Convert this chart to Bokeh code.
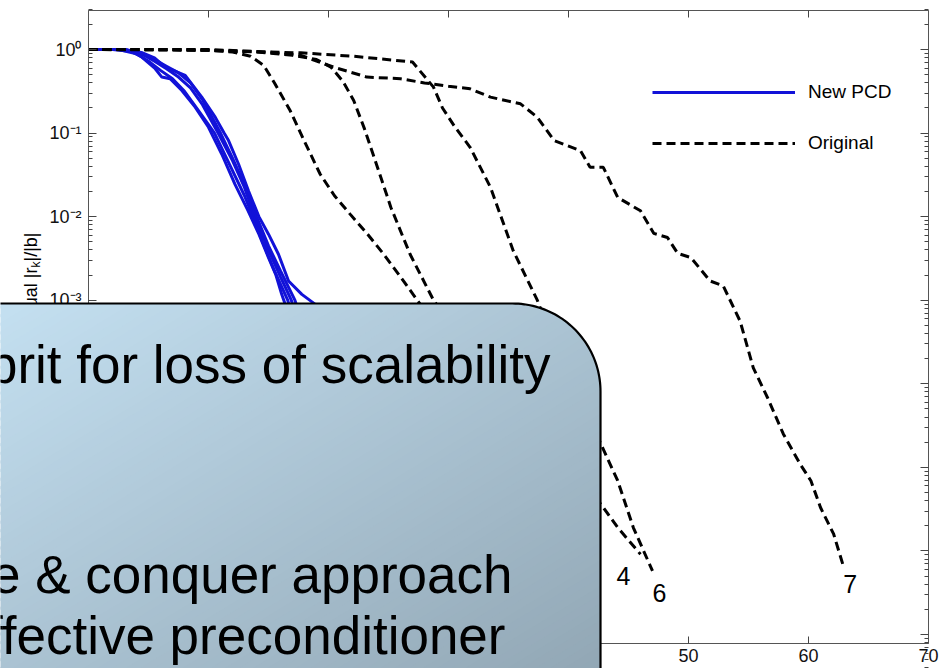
import numpy as np
from bokeh.plotting import figure
from bokeh.models import (Range1d, FixedTicker, LinearAxis, LogAxis, Legend, LegendItem,
                          Label, PolyAnnotation, CustomJSTickFormatter)
from bokeh.embed import file_html
from bokeh.resources import INLINE

# ---------------------------------------------------------------------------
# Convergence histories: iteration number vs. log10 of relative residual
# ---------------------------------------------------------------------------
# New PCD runs (solid blue)
pcd_a_iter = [0, 2, 3.5, 4.44, 5.56, 6.11, 6.8, 7.78, 8.89, 10, 11.1, 12.2, 13.3, 14.2, 15, 15.6, 16.1, 16.4, 17.5, 19, 20.5, 22]
pcd_a_log = [0, 0, -0.02, -0.09, -0.23, -0.33, -0.35, -0.49, -0.69, -0.93, -1.25, -1.61, -1.93, -2.21, -2.49, -2.69, -2.93, -3.05, -3.55, -4.4, -5.3, -6.2]

pcd_b_iter = [0, 2.5, 4, 5, 6, 7, 8, 9, 10, 10.5, 11, 12, 13, 13.7, 14.5, 15.5, 16.6, 17.5, 19, 20.5, 22]
pcd_b_log = [0, 0, -0.05, -0.14, -0.25, -0.35, -0.5, -0.7, -0.9, -1.0, -1.15, -1.45, -1.75, -2.0, -2.3, -2.65, -3.0, -3.45, -4.3, -5.2, -6.1]

pcd_c_iter = [0, 3, 4.5, 5.5, 6.5, 7.5, 8.5, 9.5, 10.8, 12, 13, 13.85, 15, 16, 16.9, 17.8, 19.3, 20.8, 22.3]
pcd_c_log = [0, 0, -0.06, -0.14, -0.23, -0.33, -0.46, -0.66, -1.0, -1.33, -1.65, -2.0, -2.4, -2.72, -3.0, -3.4, -4.2, -5.0, -5.9]

pcd_d_iter = [0, 3, 4.5, 5.5, 6.5, 7.5, 8.5, 9.5, 11, 12, 13, 14, 15, 16, 17.2, 18.2, 19.7, 21.2, 22.7]
pcd_d_log = [0, 0, -0.05, -0.12, -0.2, -0.28, -0.4, -0.6, -1.0, -1.3, -1.62, -2.0, -2.35, -2.65, -3.0, -3.45, -4.2, -5.0, -5.9]

pcd_e_iter = [0, 3, 4.5, 5.5, 6.4, 8.06, 9.44, 10.56, 11.3, 11.67, 12.5, 13.33, 14.2, 15, 15.83, 16.67, 17.78, 18.9, 20, 21.5, 23, 24.5]
pcd_e_log = [0, 0, -0.04, -0.1, -0.21, -0.31, -0.57, -0.81, -1.0, -1.09, -1.37, -1.69, -2.0, -2.21, -2.45, -2.77, -2.93, -3.05, -3.3, -4.1, -5.0, -5.9]

# Original method runs (dashed black)
orig_a_iter = [0, 5, 10, 12, 13.5, 14.6, 15.5, 16.8, 18, 19.3, 20.5, 21.8, 23.2, 24.6, 26, 27.4, 30, 33, 36, 39, 41]
orig_a_log = [0, 0, -0.01, -0.03, -0.08, -0.19, -0.4, -0.73, -1.1, -1.49, -1.75, -1.97, -2.2, -2.45, -2.72, -3.0, -3.5, -4.05, -4.65, -5.3, -5.8]

orig_4_iter = [0, 8, 14, 17, 19, 20.2, 21.2, 22.1, 23, 23.8, 25.2, 26.8, 28.75, 31, 34, 37, 40, 42.7, 44.1, 46]
orig_4_log = [0, 0, -0.03, -0.07, -0.12, -0.21, -0.38, -0.61, -0.95, -1.29, -1.89, -2.45, -3.0, -3.45, -3.95, -4.5, -5.0, -5.44, -5.72, -6.04]

orig_6_iter = [0, 10, 15, 17.7, 22, 27, 28.75, 29.5, 30.5, 31.8, 33.5, 35.4, 37.4, 39, 41, 42.7, 44.1, 45.4, 47]
orig_6_log = [0, 0, -0.03, -0.04, -0.08, -0.15, -0.45, -0.7, -0.92, -1.17, -1.65, -2.41, -3.0, -3.6, -4.2, -4.72, -5.16, -5.72, -6.24]

orig_7_iter = [0, 10, 15, 17.7, 20.4, 23.2, 26, 28, 30, 31.8, 33.5, 36, 37.4, 38.8, 41, 41.8, 42.9, 44.1, 46, 47.1,
               48.25, 49.1, 50.2, 51.8, 52.9, 54.3, 55.4, 56.6, 57.9, 59.3, 60.2, 61, 62.1, 62.9]
orig_7_log = [0, -0.01, -0.03, -0.07, -0.21, -0.33, -0.35, -0.4, -0.44, -0.47, -0.57, -0.65, -0.81, -1.09, -1.21, -1.41, -1.41, -1.77, -1.93, -2.2,
              -2.25, -2.44, -2.49, -2.77, -2.83, -3.25, -3.81, -4.17, -4.6, -4.96, -5.16, -5.48, -5.8, -6.18]

pcd_runs = [(pcd_a_iter, pcd_a_log), (pcd_b_iter, pcd_b_log), (pcd_c_iter, pcd_c_log),
            (pcd_d_iter, pcd_d_log), (pcd_e_iter, pcd_e_log)]
orig_runs = [(orig_a_iter, orig_a_log, None), (orig_4_iter, orig_4_log, "4"),
             (orig_6_iter, orig_6_log, "6"), (orig_7_iter, orig_7_log, "7")]

x_ticks = [0, 10, 20, 30, 40, 50, 60, 70]
y_ticks = [10.0 ** e for e in range(-7, 1)]
y_minor = [k * 10.0 ** e for e in range(-8, 1) for k in range(2, 10)]

# axes box: iterations 0..70, residual 10^-7.108 .. 10^0.467
X_MIN, X_MAX = 0, 70
Y_MIN, Y_MAX = 10 ** -7.108, 10 ** 0.467

# ---------------------------------------------------------------------------
FONT = "Liberation Sans"
BLUE = "#1212d8"

# The plotting frame spans the whole canvas; the axes are pinned around the
# data box with fixed_location so overlays can reach the page edges.
p = figure(width=939, height=668,
           x_range=Range1d(-88 / 12.0, 851 / 12.0),
           y_range=Range1d(10 ** (-619 / 83.57), 10 ** (49 / 83.57)),
           y_axis_type="log", output_backend="svg", toolbar_location=None,
           min_border_left=0, min_border_right=0, min_border_top=0, min_border_bottom=0)
p.title.visible = False
p.xgrid.visible = False
p.ygrid.visible = False
p.outline_line_color = None
p.background_fill_color = "white"
p.border_fill_color = "white"

bottom_axis = p.below[0]
left_axis = p.left[0]

xticker = FixedTicker(ticks=x_ticks, minor_ticks=[])
yticker = FixedTicker(ticks=y_ticks, minor_ticks=y_minor)
sup_fmt = CustomJSTickFormatter(code="""
    const e = Math.round(Math.log10(tick));
    const sup = {'0':'\u2070','1':'\u00b9','2':'\u00b2','3':'\u00b3','4':'\u2074','5':'\u2075',
                 '6':'\u2076','7':'\u2077','8':'\u2078','9':'\u2079','-':'\u207b'};
    return '10' + String(e).split('').map(c => sup[c]).join('');
""")

bottom_axis.ticker = xticker
left_axis.ticker = yticker
left_axis.formatter = sup_fmt
bottom_axis.major_label_standoff = 5
left_axis.major_label_standoff = 7

# mirrored axes (ticks only, labels made invisible)
top_axis = LinearAxis(ticker=xticker, major_label_text_font_size="2px",
                      major_label_text_alpha=0, major_label_standoff=0)
right_axis = LogAxis(ticker=yticker, major_label_text_font_size="2px",
                     major_label_text_alpha=0, major_label_standoff=0)
p.add_layout(top_axis, "above")
p.add_layout(right_axis, "right")

bottom_axis.fixed_location = Y_MIN
top_axis.fixed_location = Y_MAX
left_axis.fixed_location = X_MIN
right_axis.fixed_location = X_MAX
for ax in [bottom_axis, top_axis]:
    ax.bounds = (X_MIN, X_MAX)
for ax in [left_axis, right_axis]:
    ax.bounds = (Y_MIN, Y_MAX)

for ax in [bottom_axis, left_axis, top_axis, right_axis]:
    ax.axis_line_color = "#555555"
    ax.major_tick_line_color = "#444444"
    ax.minor_tick_line_color = "#444444"
    ax.major_tick_in = 8
    ax.major_tick_out = 0
    ax.minor_tick_in = 4
    ax.minor_tick_out = 0
    ax.major_label_text_font = FONT
for ax in [bottom_axis, left_axis]:
    ax.major_label_text_font_size = "18px"
    ax.major_label_text_color = "#111111"
bottom_axis.major_tick_in = 7
top_axis.major_tick_in = 7

# curves
blue_r = []
for it, lg in pcd_runs:
    r = p.line(it, [10.0 ** v for v in lg], line_color=BLUE, line_width=3)
    blue_r.append(r)

black_r = []
for it, lg, name in orig_runs:
    r = p.line(it, [10.0 ** v for v in lg], line_color="black", line_width=3, line_dash="9 5")
    black_r.append(r)

# run labels at the end of each dashed curve
label_offsets = {"4": (-17, -22), "6": (7, -22), "7": (7, -18)}
for it, lg, name in orig_runs:
    if name is None:
        continue
    dx, dy = label_offsets[name]
    p.add_layout(Label(x=it[-1], y=10.0 ** lg[-1], text=name, x_offset=dx, y_offset=dy,
                       text_align="center", text_baseline="middle",
                       text_font=FONT, text_font_size="25px", text_color="black"))

legend = Legend(items=[LegendItem(label="New PCD", renderers=[blue_r[0]]),
                       LegendItem(label="Original", renderers=[black_r[0]])],
                location=(642, 504), orientation="vertical",
                glyph_width=143, glyph_height=20, label_height=20, spacing=29,
                padding=10, margin=0, label_standoff=13,
                label_text_font=FONT, label_text_font_size="19px", label_text_color="black",
                border_line_alpha=0, background_fill_alpha=0)
p.add_layout(legend)

# y-axis title, drawn in pieces so that the k can be a subscript
YL_X = 30
p.add_layout(Label(x=YL_X, y=267, x_units="canvas", y_units="canvas", angle=np.pi / 2,
                   text="Relative residual |r", text_align="right", text_baseline="middle",
                   text_font=FONT, text_font_size="18px", text_color="black"))
p.add_layout(Label(x=YL_X + 5, y=261, x_units="canvas", y_units="canvas", angle=np.pi / 2,
                   text="k", text_align="right", text_baseline="middle",
                   text_font=FONT, text_font_size="12px", text_color="black"))
p.add_layout(Label(x=YL_X, y=232, x_units="canvas", y_units="canvas", angle=np.pi / 2,
                   text="|/|b|", text_align="right", text_baseline="middle",
                   text_font=FONT, text_font_size="18px", text_color="black"))

# ---------------------------------------------------------------------------
# Callout box: rounded panel with a diagonal blue-grey gradient
# ---------------------------------------------------------------------------
BOX_L, BOX_T, BOX_R, BOX_B, RAD = -20, 303, 600, 700, 88
th = np.linspace(0, np.pi / 2, 48)
arc = [(BOX_R - RAD + RAD * np.sin(t), BOX_T + RAD - RAD * np.cos(t)) for t in th]
shape = [(BOX_L, BOX_B), (BOX_L, BOX_T)] + arc + [(BOX_R, BOX_B)]

ga, gb = 0.5 / 600.0, 0.5 / 365.0
gc = -gb * BOX_T
c_light = np.array([196, 224, 241])
c_dark = np.array([146, 167, 181])


def clip(poly, a, b, c):
    """Keep the part of a convex polygon where a*x + b*y + c >= 0."""
    out = []
    n = len(poly)
    for i in range(n):
        P, Q = poly[i], poly[(i + 1) % n]
        fp = a * P[0] + b * P[1] + c
        fq = a * Q[0] + b * Q[1] + c
        if fp >= 0:
            out.append(P)
        if (fp >= 0) != (fq >= 0):
            s = fp / (fp - fq)
            out.append((P[0] + s * (Q[0] - P[0]), P[1] + s * (Q[1] - P[1])))
    return out


tvals = [ga * x + gb * y + gc for x, y in shape]
t_lo, t_hi = min(tvals), max(tvals)
N = 90
edges = np.linspace(t_lo, t_hi, N + 1)
overlap = 0.004
for i in range(N):
    t0, t1 = edges[i] - (overlap if i > 0 else 0), edges[i + 1]
    poly = clip(shape, ga, gb, gc - t0)
    poly = clip(poly, -ga, -gb, -(gc - t1))
    if len(poly) < 3:
        continue
    tm = min(max(0.5 * (edges[i] + edges[i + 1]), 0.0), 1.0)
    col = c_light + (c_dark - c_light) * tm
    hexcol = "#%02x%02x%02x" % tuple(int(round(v)) for v in col)
    p.add_layout(PolyAnnotation(xs=[float(q[0]) for q in poly], ys=[float(q[1]) for q in poly],
                                xs_units="canvas", ys_units="canvas",
                                fill_color=hexcol, fill_alpha=1.0, line_color=None))

p.add_layout(PolyAnnotation(xs=[float(q[0]) for q in shape], ys=[float(q[1]) for q in shape],
                            xs_units="canvas", ys_units="canvas",
                            fill_alpha=0, line_color="black", line_alpha=1.0, line_width=2.2))

for txt, right, base in [("Culprit for loss of scalability", 550, 364),
                         ("Divide & conquer approach", 512, 574),
                         ("for an effective preconditioner", 505, 635)]:
    p.add_layout(Label(x=right, y=base, x_units="canvas", y_units="canvas", text=txt,
                       text_align="right", text_baseline="alphabetic",
                       text_font=FONT, text_font_size="53px", text_color="black"))

open("out.html", "w").write(file_html(p, INLINE))
